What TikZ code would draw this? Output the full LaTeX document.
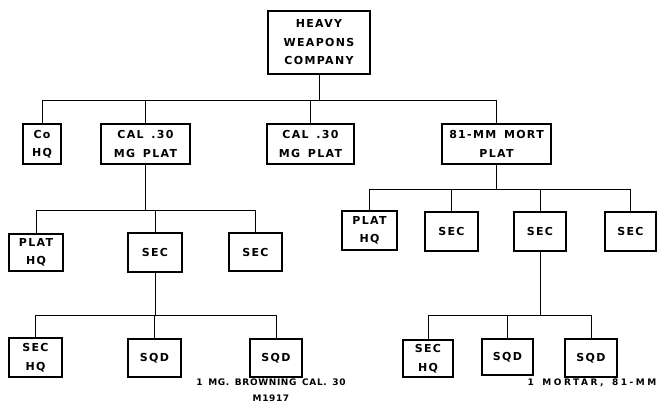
\documentclass[tikz,border=0pt]{standalone}
\usepackage{fontspec}
\setmainfont{DejaVu Sans}[LetterSpace=12, WordSpace=1.5]
\begin{document}
\begin{tikzpicture}[x=1pt,y=-1pt,
  box/.style={draw, line width=1.2pt, inner sep=0pt, align=center,
    font=\fontsize{11}{18.5}\selectfont\bfseries},
  link/.style={line width=0.9pt},
  note/.style={inner sep=0pt, align=center, font=\fontsize{9}{15.5}\selectfont\bfseries}]
\useasboundingbox (0,0) rectangle (658,412);
% level 0
\node[box, minimum width=102pt, minimum height=63pt] (top) at (319,42.5) {HEAVY\\WEAPONS\\COMPANY};
% level 1
\node[box, minimum width=38pt, minimum height=40pt] (cohq) at (42,144) {Co\\HQ};
\node[box, minimum width=89pt, minimum height=40pt] (mga) at (145.5,144) {CAL .30\\MG PLAT};
\node[box, minimum width=87pt, minimum height=40pt] (mgb) at (310.5,144) {CAL .30\\MG PLAT};
\node[box, minimum width=109pt, minimum height=40pt] (mort) at (496.5,144) {81-MM MORT\\PLAT};
% level 2 left
\node[box, minimum width=54pt, minimum height=37pt] (phqa) at (36,252.5) {PLAT\\HQ};
\node[box, minimum width=54pt, minimum height=39pt] (seca) at (155,252.5) {SEC};
\node[box, minimum width=53pt, minimum height=38pt] (secb) at (255.5,252) {SEC};
% level 3 left
\node[box, minimum width=53pt, minimum height=39pt] (shqa) at (35.5,357.5) {SEC\\HQ};
\node[box, minimum width=53pt, minimum height=38pt] (sqda) at (154.5,358) {SQD};
\node[box, minimum width=52pt, minimum height=38pt] (sqdb) at (276,358) {SQD};
% level 2 right
\node[box, minimum width=55pt, minimum height=39pt] (phqb) at (369.5,230.5) {PLAT\\HQ};
\node[box, minimum width=53pt, minimum height=39pt] (secc) at (451.5,231.5) {SEC};
\node[box, minimum width=52pt, minimum height=39pt] (secd) at (540,231.5) {SEC};
\node[box, minimum width=51pt, minimum height=39pt] (sece) at (630.5,231.5) {SEC};
% level 3 right
\node[box, minimum width=50pt, minimum height=37pt] (shqb) at (428,358.5) {SEC\\HQ};
\node[box, minimum width=51pt, minimum height=36pt] (sqdc) at (507.5,357) {SQD};
\node[box, minimum width=52pt, minimum height=38pt] (sqdd) at (591,358) {SQD};
% notes
\node[note, font=\fontsize{9}{15.5}\selectfont\bfseries\addfontfeatures{LetterSpace=7}] (noteA) at (271,390) {1 MG. BROWNING CAL. 30\\M1917};
\node[note, font=\fontsize{9}{15.5}\selectfont\bfseries\addfontfeatures{LetterSpace=28}] (noteB) at (592,383) {1 MORTAR, 81-MM};
% junctions
\coordinate (j0) at (top.south |- 0,100);
\coordinate (j1) at (mga.south |- 0,210);
\coordinate (j2) at (seca.south |- 0,315);
\coordinate (j3) at (mort.south |- 0,189);
\coordinate (j4) at (secd.south |- 0,315);
% connectors
\draw[link] (top.south) -- (j0);
\foreach \c in {cohq,mga,mgb,mort} \draw[link] (j0) -| (\c.north);
\draw[link] (mga.south) -- (j1);
\foreach \c in {phqa,seca,secb} \draw[link] (j1) -| (\c.north);
\draw[link] (seca.south) -- (j2);
\foreach \c in {shqa,sqda,sqdb} \draw[link] (j2) -| (\c.north);
\draw[link] (mort.south) -- (j3);
\foreach \c in {phqb,secc,secd,sece} \draw[link] (j3) -| (\c.north);
\draw[link] (secd.south) -- (j4);
\foreach \c in {shqb,sqdc,sqdd} \draw[link] (j4) -| (\c.north);
\end{tikzpicture}
\end{document}
